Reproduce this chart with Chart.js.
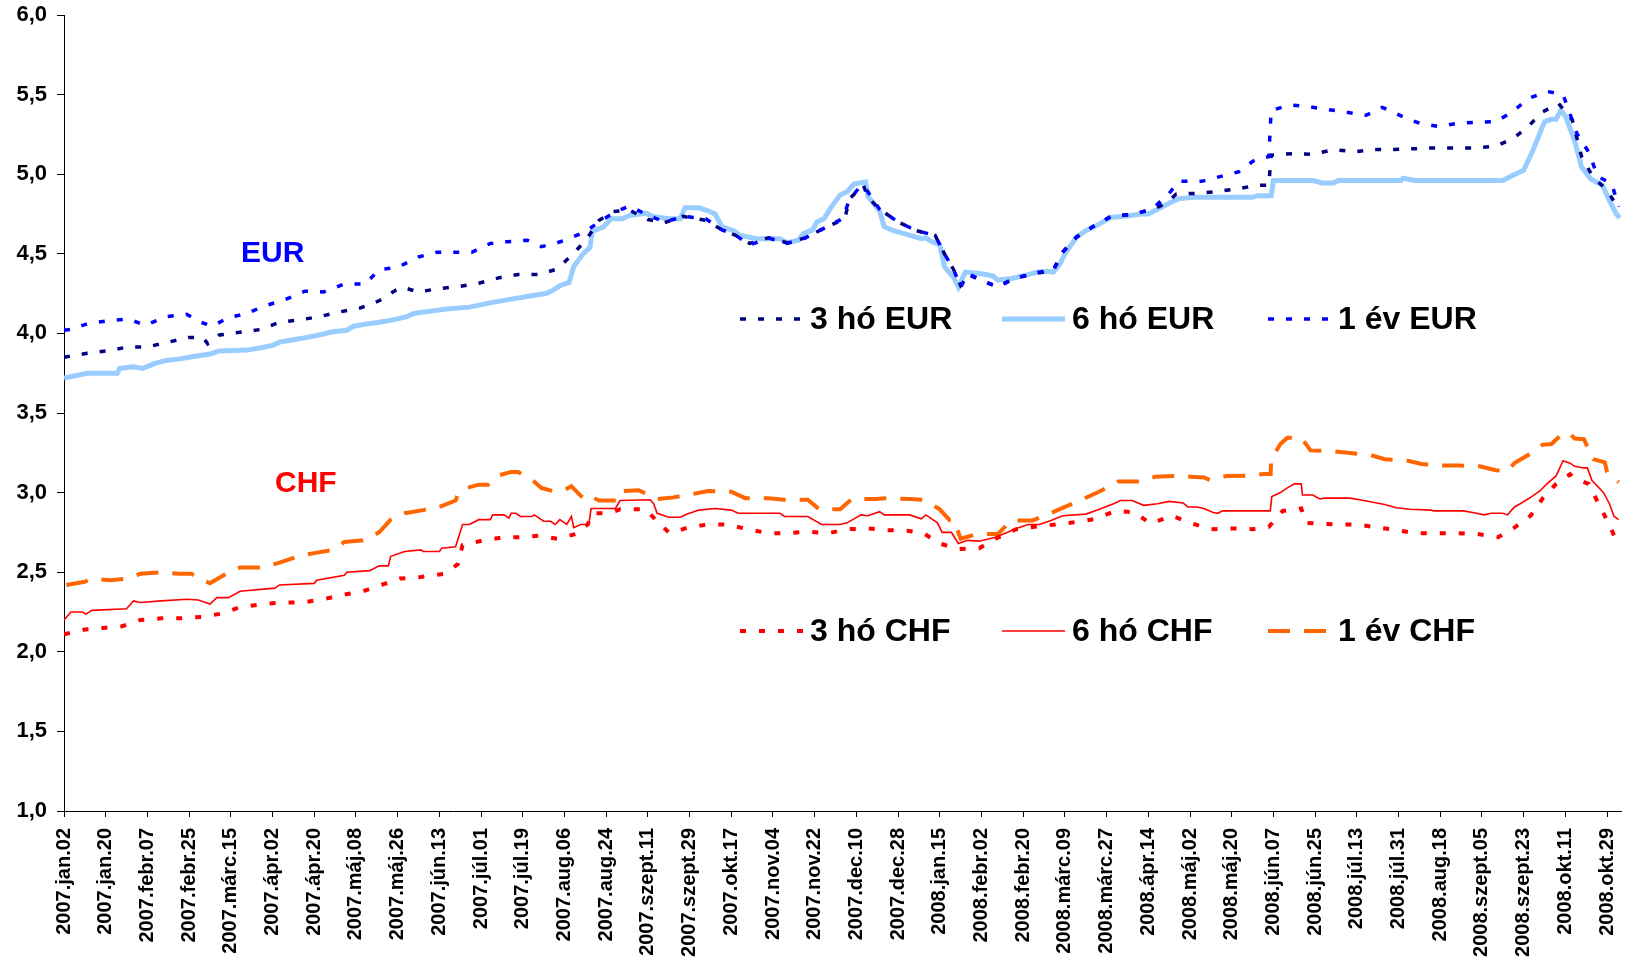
<!DOCTYPE html>
<html>
<head>
<meta charset="utf-8">
<script src="https://cdn.jsdelivr.net/npm/chart.js@4.4.1/dist/chart.umd.min.js"></script>
<style>
  body { margin: 0; background: #fff; }
  #wrap { width: 1628px; height: 964px; position: relative; }
</style>
</head>
<body>
<div id="wrap"><canvas id="chart"></canvas></div>
<script>
// tick labels, one every 18 days starting 2007.jan.02 (day 0)
const tickLabels = ['2007.jan.02','2007.jan.20','2007.febr.07','2007.febr.25','2007.márc.15','2007.ápr.02',
  '2007.ápr.20','2007.máj.08','2007.máj.26','2007.jún.13','2007.júl.01','2007.júl.19','2007.aug.06',
  '2007.aug.24','2007.szept.11','2007.szept.29','2007.okt.17','2007.nov.04','2007.nov.22','2007.dec.10',
  '2007.dec.28','2008.jan.15','2008.febr.02','2008.febr.20','2008.márc.09','2008.márc.27','2008.ápr.14',
  '2008.máj.02','2008.máj.20','2008.jún.07','2008.jún.25','2008.júl.13','2008.júl.31','2008.aug.18',
  '2008.szept.05','2008.szept.23','2008.okt.11','2008.okt.29'];

// 3 hó EUR
const eur3Days = [0,10,18,28,36,45,54,60,62,67,75,85,93,102,110,119,128,136,143,146,153,161,171,179,188,196,205,213,219,225,231,237,244,252,259,267,277,284,290,296,304,312,320,328,337,339,345,347,352,360,368,376,380,384,387,391,396,403,410,419,427,431,437,444,452,462,470,476,480,489,497,507,515,520,521,531,539,548,557,565,574,583,591,609,618,626,632,638,645,651,655,660,666,671];
const eur3Rates = [3.85,3.875,3.89,3.915,3.915,3.945,3.975,3.975,3.935,3.99,4.005,4.025,4.07,4.085,4.105,4.135,4.16,4.205,4.27,4.29,4.26,4.28,4.295,4.315,4.35,4.37,4.37,4.405,4.49,4.58,4.71,4.765,4.775,4.715,4.695,4.735,4.71,4.65,4.615,4.565,4.6,4.57,4.6,4.66,4.72,4.845,4.93,4.855,4.78,4.7,4.645,4.615,4.5,4.4,4.3,4.365,4.33,4.295,4.345,4.375,4.395,4.51,4.605,4.67,4.735,4.75,4.78,4.82,4.875,4.88,4.89,4.91,4.93,4.93,5.12,5.13,5.125,5.155,5.14,5.155,5.155,5.16,5.165,5.165,5.175,5.23,5.3,5.39,5.445,5.34,5.11,4.98,4.9,4.78];

// 6 hó EUR
const eur6Days = [0,10,23,24,30,34,39,44,50,56,63,67,79,85,90,93,99,105,110,116,122,125,131,136,142,148,151,158,166,175,185,195,203,208,211,214,218,220,224,227,228,233,236,241,244,251,254,261,266,268,274,277,281,284,289,292,299,309,312,317,319,323,325,328,331,335,338,341,346,347,352,354,358,363,370,372,374,378,380,384,386,389,393,398,401,403,409,415,420,424,427,430,432,437,441,446,452,457,465,468,472,478,481,487,513,515,521,522,539,543,548,550,577,578,583,621,625,630,634,639,642,644,646,648,652,655,659,664,667,670,671.5];
const eur6Rates = [3.72,3.75,3.75,3.78,3.79,3.78,3.81,3.83,3.84,3.855,3.87,3.89,3.895,3.91,3.925,3.945,3.96,3.975,3.99,4.01,4.02,4.045,4.06,4.07,4.085,4.105,4.125,4.14,4.155,4.165,4.195,4.22,4.24,4.25,4.27,4.3,4.32,4.42,4.5,4.54,4.64,4.67,4.72,4.72,4.74,4.755,4.735,4.72,4.72,4.79,4.79,4.775,4.75,4.67,4.645,4.615,4.595,4.595,4.57,4.585,4.625,4.65,4.7,4.72,4.79,4.87,4.89,4.94,4.95,4.86,4.77,4.67,4.645,4.625,4.595,4.6,4.58,4.555,4.42,4.35,4.29,4.385,4.38,4.37,4.36,4.335,4.345,4.365,4.385,4.39,4.385,4.44,4.5,4.605,4.645,4.68,4.73,4.735,4.75,4.75,4.78,4.825,4.845,4.855,4.855,4.865,4.865,4.96,4.96,4.945,4.945,4.96,4.96,4.975,4.96,4.96,4.99,5.025,5.15,5.33,5.345,5.345,5.4,5.365,5.21,5.045,4.97,4.93,4.835,4.75,4.725];

// 1 év EUR
const eur1Days = [0,3,10,19,28,35,44,53,59,64,71,79,86,95,104,112,121,130,136,144,153,161,176,184,191,200,206,212,218,225,232,238,244,251,259,268,277,284,290,296,304,312,320,328,336,339,344,346,352,360,368,376,380,384,387,390,396,403,410,419,427,431,437,444,452,462,470,477,481,491,499,507,514,520,521,529,537,546,553,562,569,578,585,593,602,609,618,625,632,640,647,653,658,662,668,671];
const eur1Rates = [4.02,4.025,4.06,4.08,4.09,4.05,4.105,4.12,4.07,4.045,4.1,4.125,4.17,4.21,4.265,4.26,4.31,4.31,4.4,4.415,4.48,4.51,4.51,4.565,4.575,4.585,4.545,4.565,4.595,4.64,4.71,4.765,4.8,4.75,4.7,4.735,4.72,4.65,4.615,4.555,4.6,4.565,4.6,4.66,4.72,4.84,4.93,4.91,4.78,4.7,4.645,4.615,4.5,4.4,4.29,4.375,4.335,4.29,4.345,4.38,4.4,4.51,4.605,4.67,4.735,4.75,4.785,4.88,4.955,4.955,4.985,5.015,5.09,5.11,5.4,5.435,5.425,5.405,5.39,5.37,5.42,5.36,5.32,5.3,5.32,5.325,5.33,5.39,5.475,5.52,5.5,5.255,5.14,4.985,4.94,4.795];

// 3 hó CHF
const chf3Days = [0,9,17,25,33,42,50,60,68,76,86,94,103,112,121,129,137,145,154,164,170,172,181,190,197,205,213,221,226,228,235,240,251,255,261,263,269,278,286,295,304,312,321,330,338,347,354,364,371,378,386,395,402,411,419,428,437,445,454,462,469,478,487,495,505,513,520,526,534,536,541,549,558,567,575,583,592,601,610,619,626,633,638,644,650,652,658,662,666,670];
const chf3Rates = [2.11,2.14,2.15,2.16,2.2,2.21,2.21,2.22,2.24,2.28,2.3,2.31,2.31,2.33,2.36,2.38,2.42,2.46,2.47,2.49,2.55,2.67,2.7,2.72,2.72,2.73,2.71,2.74,2.8,2.87,2.87,2.895,2.895,2.835,2.75,2.75,2.78,2.8,2.8,2.77,2.745,2.745,2.755,2.745,2.77,2.775,2.765,2.76,2.745,2.68,2.645,2.65,2.71,2.77,2.785,2.8,2.815,2.835,2.885,2.875,2.805,2.855,2.805,2.77,2.775,2.77,2.785,2.885,2.9,2.81,2.805,2.8,2.8,2.78,2.765,2.745,2.745,2.745,2.74,2.72,2.78,2.855,2.96,3.055,3.115,3.09,3.055,2.94,2.825,2.7];

// 6 hó CHF
const chf6Days = [0,3,8,9.5,12,27,30,33,42,53,58,63,66,71,76,91,93,108,109,121,122,132,136,140,141,147,154,155,162,163,169,172,175,179,184,185,190,192,193,195,197,202,203,207,210,212,214,217,219,220,223,226.5,227.5,238,240,253,254.5,256,261,266,269,274,281,288,291,309,311,321,327,335,338,344,347,352,354,365,370,372,377,379,383,386,390,395,402,407,412,416,421,426,431,441,446,453,456,461,466,472,477,483,485,489,492,496,498,500,520.6,521.3,525,528,531,534,534.5,539,542,544,555,561,570,575,581,590,591,604,608,613,616,621,623,626,628.5,633,637,640,644,647,650,652,656,657.5,659.5,664.5,667,669,671];
const chf6Rates = [2.2,2.25,2.25,2.237,2.26,2.27,2.32,2.31,2.32,2.33,2.325,2.3,2.34,2.34,2.38,2.4,2.42,2.43,2.45,2.48,2.5,2.51,2.54,2.54,2.6,2.63,2.64,2.63,2.63,2.65,2.66,2.8,2.8,2.83,2.83,2.86,2.86,2.84,2.87,2.87,2.85,2.85,2.86,2.82,2.82,2.8,2.83,2.8,2.85,2.78,2.8,2.8,2.9,2.9,2.95,2.955,2.93,2.87,2.845,2.845,2.865,2.89,2.9,2.89,2.87,2.87,2.85,2.85,2.8,2.8,2.81,2.86,2.855,2.88,2.86,2.86,2.835,2.86,2.81,2.75,2.75,2.68,2.7,2.695,2.72,2.75,2.78,2.8,2.8,2.825,2.855,2.865,2.89,2.93,2.95,2.95,2.92,2.93,2.945,2.935,2.91,2.91,2.9,2.875,2.87,2.885,2.885,2.975,3.0,3.03,3.055,3.055,2.985,2.985,2.96,2.965,2.965,2.95,2.925,2.905,2.895,2.89,2.885,2.885,2.875,2.86,2.87,2.87,2.86,2.91,2.93,2.97,3.01,3.055,3.105,3.2,3.185,3.165,3.155,3.155,3.075,3.0,2.93,2.85,2.83];

// 1 év CHF
const chf1Days = [1,9,12,20,27,33,42,50,55,57,63,70,76,86,93,101,108,116,121,129,136,141,147,155,162,169,170,174,179,183,188,193,196,202,206,211,215,219,223,226,228,231,239,241,248,256,263,271,278,288,294,304,311,321,326,335,340,350,355,365,371,374,378,382,384,387,394,403,409,418,425,432,440,448,455,464,471,479,486,492,494.5,502,512,518,520.8,521,525,528,534,538,547,554,564,570,580,586,595,602,611,618,623,626,633,638,642,647,650,652,656,660,665,666,671];
const chf1Rates = [2.42,2.44,2.46,2.45,2.46,2.49,2.5,2.49,2.49,2.47,2.43,2.49,2.53,2.53,2.56,2.6,2.62,2.64,2.69,2.7,2.75,2.83,2.87,2.89,2.91,2.95,2.99,3.03,3.05,3.05,3.11,3.13,3.13,3.08,3.03,3.01,3.01,3.04,2.98,2.95,2.97,2.95,2.95,3.01,3.015,2.96,2.97,2.99,3.01,3.005,2.965,2.965,2.955,2.955,2.895,2.895,2.96,2.96,2.965,2.96,2.955,2.93,2.895,2.83,2.83,2.71,2.74,2.74,2.825,2.825,2.865,2.91,2.96,3.015,3.07,3.07,3.1,3.105,3.1,3.095,3.08,3.105,3.107,3.117,3.117,3.21,3.305,3.345,3.345,3.265,3.26,3.25,3.235,3.21,3.2,3.18,3.17,3.17,3.165,3.14,3.135,3.185,3.245,3.3,3.305,3.375,3.37,3.34,3.335,3.21,3.19,3.13,3.065];

const FONT = "'Liberation Sans', Arial, sans-serif";

function pts(days, rates) {
  return days.map((d, i) => ({ x: d, y: rates[i] }));
}

function line(label, days, rates, color, width, dash, order) {
  return {
    label: label,
    data: pts(days, rates),
    borderColor: color,
    borderWidth: width,
    borderDash: dash,
    borderCapStyle: 'butt',
    pointRadius: 0,
    tension: 0,
    fill: false,
    order: order
  };
}

// legend drawn inside the plot, two rows of three + the EUR / CHF group labels
const inlineLegend = {
  id: 'inlineLegend',
  afterDraw(chart) {
    const ctx = chart.ctx;
    const cols = [740, 1002, 1268];
    const rows = [319, 631];
    chart.data.datasets.forEach((ds, i) => {
      const x = cols[i % 3];
      const y = rows[Math.floor(i / 3)];
      ctx.save();
      ctx.strokeStyle = ds.borderColor;
      ctx.lineWidth = ds.borderWidth;
      ctx.lineCap = 'butt';
      ctx.setLineDash(ds.borderDash);
      ctx.beginPath();
      ctx.moveTo(x, y);
      ctx.lineTo(x + 63, y);
      ctx.stroke();
      ctx.setLineDash([]);
      ctx.fillStyle = '#000';
      ctx.font = 'bold 32px ' + FONT;
      ctx.textBaseline = 'alphabetic';
      ctx.fillText(ds.label, x + 70, y + 10);
      ctx.restore();
    });
    ctx.save();
    ctx.font = 'bold 30px ' + FONT;
    ctx.textBaseline = 'alphabetic';
    ctx.fillStyle = '#0000FF';
    ctx.fillText('EUR', 241, 262);
    ctx.fillStyle = '#FF0000';
    ctx.fillText('CHF', 275, 492);
    ctx.restore();
  }
};

new Chart(document.getElementById('chart'), {
  type: 'line',
  data: {
    datasets: [
      line('3 hó EUR', eur3Days, eur3Rates, '#000080', 3.5, [6, 12], 1),
      line('6 hó EUR', eur6Days, eur6Rates, '#99CCFF', 5, [], 9),
      line('1 év EUR', eur1Days, eur1Rates, '#0000FF', 3.5, [6, 12], 0),
      line('3 hó CHF', chf3Days, chf3Rates, '#FF0000', 4, [6, 13], 2),
      line('6 hó CHF', chf6Days, chf6Rates, '#FF0000', 1.6, [], 3),
      line('1 év CHF', chf1Days, chf1Rates, '#FF6600', 4, [22, 14], 4)
    ]
  },
  options: {
    responsive: true,
    maintainAspectRatio: false,
    animation: false,
    layout: { padding: { top: 15, right: 7, bottom: 0, left: 0 } },
    plugins: { legend: { display: false }, tooltip: { enabled: false } },
    scales: {
      x: {
        type: 'linear',
        min: 0,
        max: 672,
        afterFit: s => { s.height = 153; s.paddingLeft = 0; s.paddingRight = 0; },
        grid: { drawOnChartArea: false, color: '#000', tickLength: 6 },
        border: { color: '#000', width: 1 },
        ticks: {
          stepSize: 18,
          includeBounds: false,
          autoSkip: false,
          maxRotation: 90,
          minRotation: 90,
          padding: 11,
          color: '#000',
          font: { family: FONT, size: 20, weight: 'bold' },
          callback: v => tickLabels[Math.round(v / 18)] || ''
        }
      },
      y: {
        min: 1,
        max: 6,
        afterFit: s => { s.width = 64; s.paddingTop = 0; s.paddingBottom = 0; },
        grid: { drawOnChartArea: false, color: '#000', tickLength: 7 },
        border: { color: '#000', width: 1 },
        ticks: {
          stepSize: 0.5,
          padding: 10,
          color: '#000',
          font: { family: FONT, size: 22, weight: 'bold' },
          callback: v => v.toFixed(1).replace('.', ',')
        }
      }
    }
  },
  plugins: [inlineLegend]
});
</script>
</body>
</html>
